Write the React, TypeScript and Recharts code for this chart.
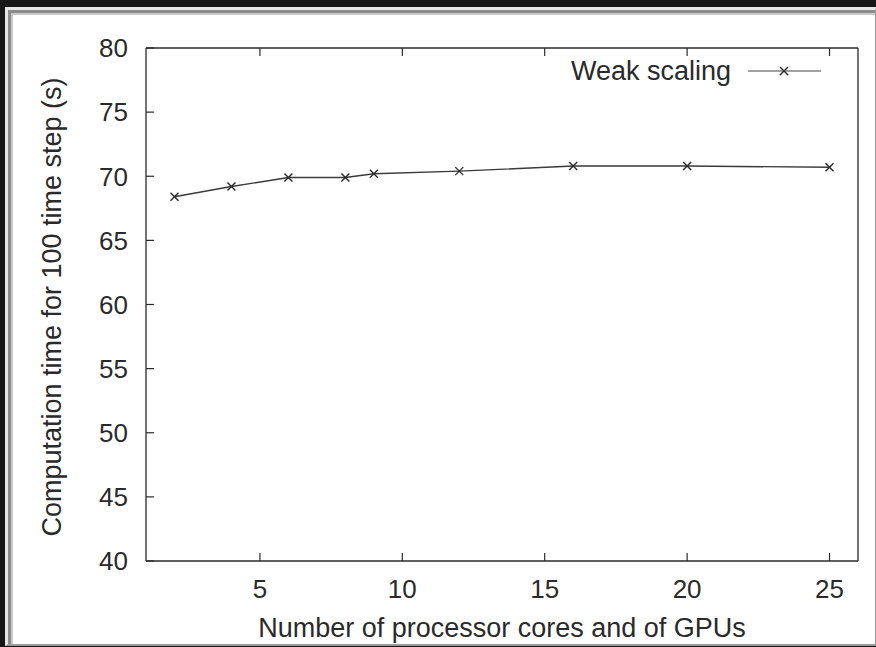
import React from 'react';
import { LineChart, Line, XAxis, YAxis } from 'recharts';

// processor cores / GPUs
const cores = [2, 4, 6, 8, 9, 12, 16, 20, 25];
// computation time for 100 time steps (s)
const weakScaling = [68.4, 69.2, 69.9, 69.9, 70.2, 70.4, 70.8, 70.8, 70.7];
const xTicks = [5, 10, 15, 20, 25];
const yTicks = [40, 45, 50, 55, 60, 65, 70, 75, 80];

const data = cores.map((c, i) => ({ cores: c, time: weakScaling[i] }));

const FONT = '"Liberation Sans", Arial, Helvetica, sans-serif';
const INK = '#2a2a2a';

const W = 876;
const H = 647;
const TOP = 48;
const RIGHT = 18;
const Y_AXIS_W = 146;
const X_AXIS_H = 86;
// plot box edges, derived from the margins above
const PLOT_LEFT = Y_AXIS_W;
const PLOT_RIGHT = W - RIGHT;
const PLOT_TOP = TOP;
const PLOT_BOTTOM = H - X_AXIS_H;
const TICK = 8;

const Cross = (props: any) => {
    const { cx, cy } = props;
    if (cx == null || cy == null) return null;
    const s = 4;
    return (
        <g stroke={INK} strokeWidth={1.4}>
            <line x1={cx - s} y1={cy - s} x2={cx + s} y2={cy + s} />
            <line x1={cx - s} y1={cy + s} x2={cx + s} y2={cy - s} />
        </g>
    );
};

// gnuplot-style ticks: pointing into the plot on all four sides
const BottomTick = (props: any) => {
    const { x, payload } = props;
    return (
        <g>
            <line x1={x} x2={x} y1={PLOT_BOTTOM} y2={PLOT_BOTTOM - TICK} stroke={INK} strokeWidth={1.2} />
            <text x={x} y={PLOT_BOTTOM + 37} textAnchor="middle" fill={INK} fontSize={26} fontFamily={FONT}>
                {payload.value}
            </text>
        </g>
    );
};

const TopTick = (props: any) => {
    const { x } = props;
    return <line x1={x} x2={x} y1={PLOT_TOP} y2={PLOT_TOP + TICK} stroke={INK} strokeWidth={1.2} />;
};

const LeftTick = (props: any) => {
    const { y, payload } = props;
    return (
        <g>
            <line x1={PLOT_LEFT} x2={PLOT_LEFT + TICK} y1={y} y2={y} stroke={INK} strokeWidth={1.2} />
            <text x={128} y={y} dy="0.36em" textAnchor="end" fill={INK} fontSize={26} fontFamily={FONT}>
                {payload.value}
            </text>
        </g>
    );
};

const RightTick = (props: any) => {
    const { y } = props;
    return <line x1={PLOT_RIGHT} x2={PLOT_RIGHT - TICK} y1={y} y2={y} stroke={INK} strokeWidth={1.2} />;
};

const LegendBox = () => (
    <div
        style={{
            position: 'absolute', left: 571, top: 53, display: 'flex', alignItems: 'center',
            fontFamily: FONT, fontSize: 27, color: INK, lineHeight: '36px',
        }}
    >
        <span>Weak scaling</span>
        <svg width={80} height={20} style={{ marginLeft: 14 }}>
            <line x1={3} y1={10} x2={76} y2={10} stroke="#444" strokeWidth={1.2} />
            <Cross cx={39} cy={10} />
        </svg>
    </div>
);

export default function App() {
    return (
        <div style={{ position: 'fixed', left: 0, top: 0, width: W, height: H, background: '#161616' }}>
            <div
                style={{
                    position: 'absolute', left: 5, top: 7, width: 867, height: 634,
                    background: '#fff', borderTop: '3px solid #e6e6e6', borderLeft: '3px solid #e6e6e6',
                    borderRight: '2px solid #9a9a9a', borderBottom: '2px solid #9a9a9a',
                    boxShadow: 'inset 3px 3px 0 #8c8c8c, inset 5px 5px 0 #c8c8c8',
                }}
            />
            <div style={{ position: 'absolute', left: 0, top: 0 }}>
                <LineChart width={W} height={H} data={data} margin={{ top: TOP, right: RIGHT, bottom: 0, left: 0 }}>
                    <XAxis
                        dataKey="cores"
                        type="number"
                        domain={[1, 26]}
                        ticks={xTicks}
                        height={X_AXIS_H}
                        tickLine={false}
                        tick={<BottomTick />}
                        axisLine={{ stroke: INK, strokeWidth: 1.3 }}
                        label={{
                            value: 'Number of processor cores and of GPUs',
                            position: 'insideBottom',
                            offset: 10,
                            fill: INK,
                            fontSize: 27,
                            fontFamily: FONT,
                        }}
                    />
                    <XAxis
                        xAxisId="top"
                        dataKey="cores"
                        type="number"
                        domain={[1, 26]}
                        ticks={xTicks}
                        orientation="top"
                        mirror
                        tickLine={false}
                        tick={<TopTick />}
                        axisLine={{ stroke: INK, strokeWidth: 1.3 }}
                    />
                    <YAxis
                        domain={[40, 80]}
                        ticks={yTicks}
                        width={Y_AXIS_W}
                        tickLine={false}
                        tick={<LeftTick />}
                        axisLine={{ stroke: INK, strokeWidth: 1.3 }}
                        label={{
                            position: 'center',
                            content: () => (
                                <text
                                    x={61}
                                    y={307}
                                    transform="rotate(-90 61 307)"
                                    textAnchor="middle"
                                    fill={INK}
                                    fontSize={27}
                                    fontFamily={FONT}
                                >
                                    Computation time for 100 time step (s)
                                </text>
                            ),
                        }}
                    />
                    <YAxis
                        yAxisId="right"
                        domain={[40, 80]}
                        ticks={yTicks}
                        orientation="right"
                        mirror
                        tickLine={false}
                        tick={<RightTick />}
                        axisLine={{ stroke: INK, strokeWidth: 1.3 }}
                    />
                    <Line
                        type="linear"
                        dataKey="time"
                        stroke="#3a3a3a"
                        strokeWidth={1.4}
                        dot={<Cross />}
                        activeDot={false}
                        isAnimationActive={false}
                    />
                </LineChart>
            </div>
            <LegendBox />
        </div>
    );
}
